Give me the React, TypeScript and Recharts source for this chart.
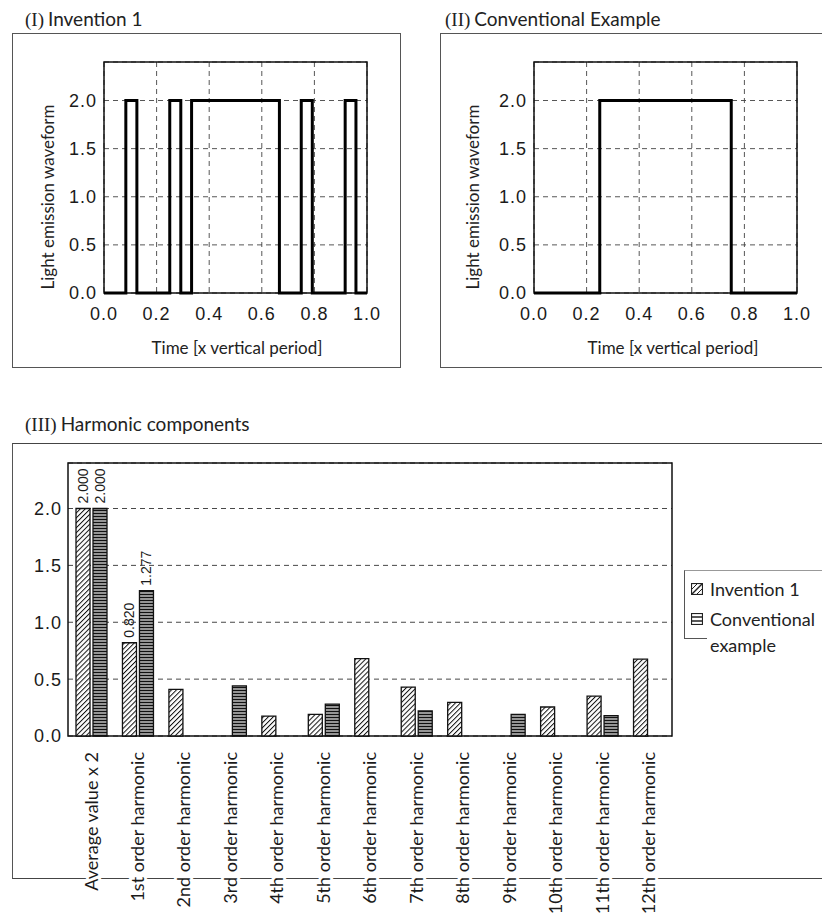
import React from "react";
import {
  Bar,
  BarChart,
  CartesianGrid,
  LabelList,
  Legend,
  Line,
  LineChart,
  ReferenceArea,
  XAxis,
  YAxis,
} from "recharts";

// waveform panels
const timeTicks = [0, 0.2, 0.4, 0.6, 0.8, 1.0];
const levelTicks = [0, 0.5, 1.0, 1.5, 2.0];

const inventionTimes = [0, 0.083, 0.125, 0.25, 0.292, 0.333, 0.667, 0.75, 0.792, 0.917, 0.958, 1.0];
const inventionLevels = [0, 2, 0, 2, 0, 2, 0, 2, 0, 2, 0, 0];
const conventionalTimes = [0, 0.25, 0.75, 1.0];
const conventionalLevels = [0, 2, 0, 0];

// harmonic panel
const harmonicNames = [
  "Average value x 2",
  "1st order harmonic",
  "2nd order harmonic",
  "3rd order harmonic",
  "4th order harmonic",
  "5th order harmonic",
  "6th order harmonic",
  "7th order harmonic",
  "8th order harmonic",
  "9th order harmonic",
  "10th order harmonic",
  "11th order harmonic",
  "12th order harmonic",
];
const invention1Values = [2.0, 0.82, 0.41, 0, 0.175, 0.19, 0.68, 0.43, 0.295, 0, 0.255, 0.35, 0.675];
const conventionalValues = [2.0, 1.277, 0, 0.44, 0, 0.28, 0, 0.22, 0, 0.19, 0, 0.18, 0];
const invention1Labels = ["2.000", "0.820", "", "", "", "", "", "", "", "", "", "", ""];
const conventionalLabels = ["2.000", "1.277", "", "", "", "", "", "", "", "", "", "", ""];
const harmonicTicks = [0, 0.5, 1.0, 1.5, 2.0];

const textFont = "Lato, 'Open Sans', sans-serif";
const numFont = "'Liberation Sans', Arial, sans-serif";
const ink = "#1a1a1a";

const numTick = { fontSize: 18, fill: ink, fontFamily: numFont, letterSpacing: 1 };

function Waveform({ times, levels }: { times: number[]; levels: number[] }) {
  const data = times.map((t, i) => ({ t, v: levels[i] }));
  return (
    <LineChart width={400} height={370} data={data} margin={{ top: 62, right: 33, bottom: 47, left: 0 }}>
      <CartesianGrid stroke="#444" strokeDasharray="5 4" strokeWidth={0.9} />
      <XAxis
        dataKey="t"
        type="number"
        domain={[0, 1]}
        ticks={timeTicks}
        interval={0}
        tickFormatter={(v: number) => v.toFixed(1)}
        axisLine={false}
        tickLine={false}
        tickSize={0}
        tickMargin={14}
        height={30}
        tick={numTick}
      />
      <YAxis
        type="number"
        domain={[0, 2.4]}
        ticks={levelTicks}
        interval={0}
        tickFormatter={(v: number) => v.toFixed(1)}
        axisLine={false}
        tickLine={false}
        tickSize={0}
        tickMargin={7}
        width={104}
        tick={numTick}
      />
      <ReferenceArea x1={0} x2={1} y1={0} y2={2.4} fill="none" stroke="#111" strokeWidth={1.5} ifOverflow="visible" />
      <Line type="stepAfter" dataKey="v" stroke="#000" strokeWidth={3} dot={false} isAnimationActive={false} />
    </LineChart>
  );
}

function HarmonicTick(props: any) {
  const { x, y, payload } = props;
  return (
    <text
      x={x}
      y={y}
      transform={`rotate(-90 ${x} ${y})`}
      dy="0.35em"
      textAnchor="end"
      fontFamily={textFont}
      fontSize={18}
      fill={ink}
      stroke="#fff"
      strokeWidth={6}
      paintOrder="stroke"
    >
      {payload.value}
    </text>
  );
}

function ValueLabel(props: any) {
  const { x, y, width, value } = props;
  if (!value) return null;
  const cx = Number(x) + Number(width) / 2;
  const ty = Number(y) - 5;
  return (
    <text
      x={cx}
      y={ty}
      transform={`rotate(-90 ${cx} ${ty})`}
      dy="0.35em"
      textAnchor="start"
      fontFamily={numFont}
      fontSize={14}
      fill={ink}
    >
      {value}
    </text>
  );
}

function Swatch({ kind }: { kind: "hatch" | "stripe" }) {
  return (
    <svg width={12} height={12} style={{ display: "block" }}>
      <rect x={0.5} y={0.5} width={11} height={11} fill="#fff" stroke="#222" strokeWidth={1.2} />
      {kind === "hatch" ? (
        <>
          <line x1={1} y1={11} x2={11} y2={1} stroke="#222" strokeWidth={1.5} />
          <line x1={1} y1={6} x2={6} y2={1} stroke="#222" strokeWidth={1} />
          <line x1={6} y1={11} x2={11} y2={6} stroke="#222" strokeWidth={1} />
        </>
      ) : (
        <>
          <line x1={1} y1={4} x2={11} y2={4} stroke="#222" strokeWidth={1.5} />
          <line x1={1} y1={8} x2={11} y2={8} stroke="#222" strokeWidth={1.5} />
        </>
      )}
    </svg>
  );
}

function HarmonicLegend() {
  return (
    <div style={{ position: "relative", width: 140, height: 84, fontFamily: textFont, fontSize: 18, color: "#222" }}>
      <div style={{ position: "absolute", left: 0, top: 0, width: 140, height: 68, borderTop: "1px solid #999", borderLeft: "1px solid #555" }} />
      <div style={{ position: "absolute", left: 0, top: 68, width: 23, borderTop: "1px solid #555" }} />
      <div style={{ position: "absolute", left: 7, top: 13 }}>
        <Swatch kind="hatch" />
      </div>
      <div style={{ position: "absolute", left: 26, top: 8, lineHeight: "22px" }}>Invention 1</div>
      <div style={{ position: "absolute", left: 7, top: 43 }}>
        <Swatch kind="stripe" />
      </div>
      <div style={{ position: "absolute", left: 26, top: 38, lineHeight: "22px" }}>Conventional</div>
      <div style={{ position: "absolute", left: 26, top: 64, lineHeight: "22px" }}>example</div>
    </div>
  );
}

function Title({ x, y, num, text }: { x: number; y: number; num: string; text: string }) {
  return (
    <div style={{ position: "absolute", left: x, top: y, whiteSpace: "nowrap", color: "#222", lineHeight: "24px" }}>
      <span style={{ fontFamily: "'Liberation Serif', serif", fontSize: 19 }}>({num})</span>
      <span style={{ fontFamily: textFont, fontSize: 19, marginLeft: 4 }}>{text}</span>
    </div>
  );
}

function AxisTitle({ cx, cy, text, vertical }: { cx: number; cy: number; text: string; vertical?: boolean }) {
  return (
    <div
      style={{
        position: "absolute",
        left: cx,
        top: cy,
        transform: `translate(-50%, -50%)${vertical ? " rotate(-90deg)" : ""}`,
        whiteSpace: "nowrap",
        fontFamily: textFont,
        fontSize: 17,
        color: "#222",
      }}
    >
      {text}
    </div>
  );
}

export default function App() {
  const barData = harmonicNames.map((name, i) => ({
    name,
    inv: invention1Values[i],
    conv: conventionalValues[i],
    invLabel: invention1Labels[i],
    convLabel: conventionalLabels[i],
  }));

  return (
    <div style={{ position: "absolute", left: 0, top: 0, width: 822, height: 915, overflow: "hidden", background: "#fff" }}>
      {/* (I) */}
      <Title x={25} y={7} num="I" text="Invention 1" />
      <div style={{ position: "absolute", left: 12, top: 33, width: 387, height: 333, border: "1px solid #555" }} />
      <div style={{ position: "absolute", left: 0, top: 0 }}>
        <Waveform times={inventionTimes} levels={inventionLevels} />
      </div>
      <AxisTitle cx={47} cy={197} text="Light emission waveform" vertical />
      <AxisTitle cx={237} cy={347} text="Time [x vertical period]" />

      {/* (II) */}
      <Title x={445} y={7} num="II" text="Conventional Example" />
      <div style={{ position: "absolute", left: 440, top: 33, width: 400, height: 333, border: "1px solid #555" }} />
      <div style={{ position: "absolute", left: 430, top: 0 }}>
        <Waveform times={conventionalTimes} levels={conventionalLevels} />
      </div>
      <AxisTitle cx={472} cy={197} text="Light emission waveform" vertical />
      <AxisTitle cx={673} cy={347} text="Time [x vertical period]" />

      {/* (III) */}
      <Title x={25} y={412} num="III" text="Harmonic components" />
      <div
        style={{
          position: "absolute",
          left: 12,
          top: 443,
          width: 830,
          height: 434,
          borderTop: "1px solid #444",
          borderLeft: "1px solid #555",
          borderBottom: "1px solid #444",
        }}
      />
      <div style={{ position: "absolute", left: 0, top: 440 }}>
        <BarChart
          width={822}
          height={475}
          data={barData}
          margin={{ top: 23, right: 150, bottom: 9, left: 0 }}
          barSize={14}
          barGap={3}
        >
          <defs>
            <pattern id="hatchInv" width={3.5} height={3.5} patternUnits="userSpaceOnUse" patternTransform="rotate(45)">
              <rect width={3.5} height={3.5} fill="#fff" />
              <line x1={0} y1={0} x2={0} y2={3.5} stroke="#111" strokeWidth={2} />
            </pattern>
            <pattern id="stripeConv" width={4} height={3} patternUnits="userSpaceOnUse">
              <rect width={4} height={3} fill="#fff" />
              <line x1={0} y1={1.5} x2={4} y2={1.5} stroke="#111" strokeWidth={1.9} />
            </pattern>
          </defs>
          <CartesianGrid vertical={false} stroke="#333" strokeDasharray="5 4" strokeWidth={0.9} />
          <XAxis
            dataKey="name"
            interval={0}
            axisLine={false}
            tickLine={false}
            tickSize={0}
            tickMargin={16}
            height={170}
            tick={<HarmonicTick />}
          />
          <YAxis
            type="number"
            domain={[0, 2.4]}
            ticks={harmonicTicks}
            interval={0}
            tickFormatter={(v: number) => v.toFixed(1)}
            axisLine={false}
            tickLine={false}
            tickSize={0}
            tickMargin={6}
            width={68}
            tick={numTick}
          />
          <ReferenceArea y1={0} y2={2.4} fill="none" stroke="#111" strokeWidth={1.5} ifOverflow="visible" />
          <Bar dataKey="inv" name="Invention 1" fill="url(#hatchInv)" stroke="#111" strokeWidth={1.3} isAnimationActive={false}>
            <LabelList dataKey="invLabel" content={<ValueLabel />} />
          </Bar>
          <Bar dataKey="conv" name="Conventional example" fill="url(#stripeConv)" stroke="#111" strokeWidth={1.3} isAnimationActive={false}>
            <LabelList dataKey="convLabel" content={<ValueLabel />} />
          </Bar>
          <Legend
            layout="vertical"
            align="center"
            verticalAlign="middle"
            content={() => <HarmonicLegend />}
            wrapperStyle={{ left: 684, top: 130, width: 140, height: 84 }}
          />
        </BarChart>
      </div>
    </div>
  );
}
